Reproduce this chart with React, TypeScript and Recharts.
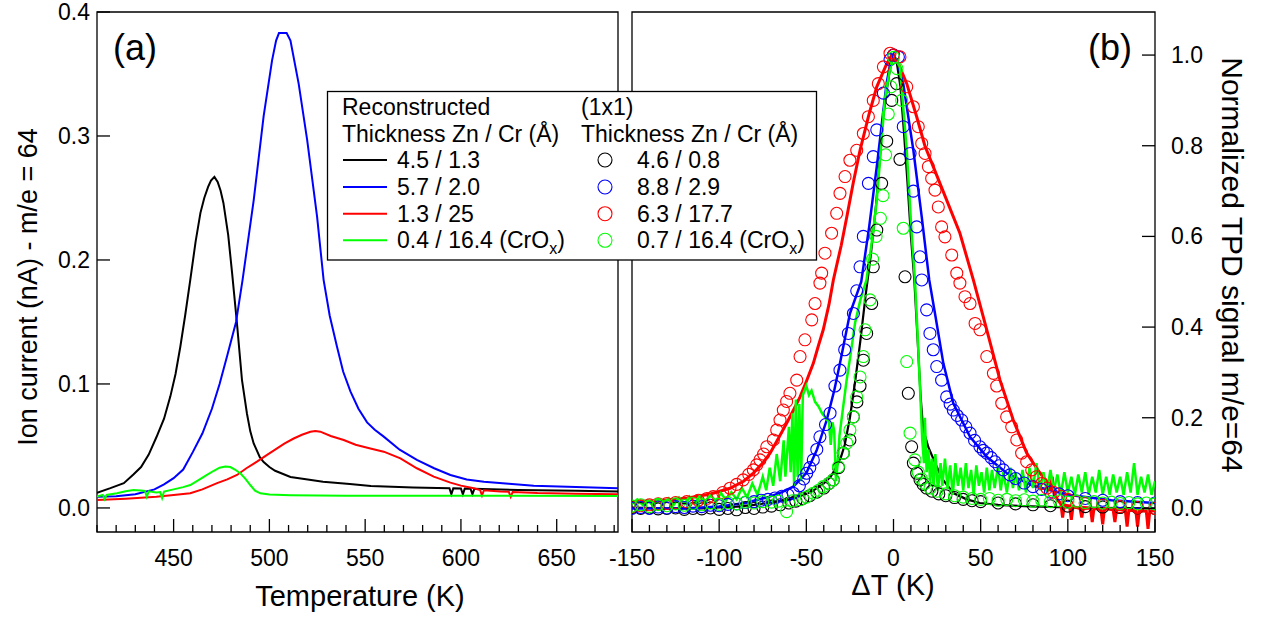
import React from "react";
import {
  ComposedChart,
  Line,
  Scatter,
  XAxis,
  YAxis,
  ReferenceArea,
} from "recharts";

// ---- panel (a): ion current vs temperature ----
const tempTicks = [410, 420, 430, 440, 450, 460, 470, 480, 490, 500, 510, 520, 530, 540, 550, 560, 570, 580, 590, 600, 610, 620, 630, 640, 650, 660, 670, 680];
const currentTicks = [0, 0.1, 0.2, 0.3, 0.4];

const blackA: [number, number][] = [
  [410, 0.0123], [417, 0.016], [424, 0.02], [429, 0.027], [433, 0.033], [437, 0.043], [441, 0.057],
  [445, 0.072], [448.3, 0.09], [451, 0.108], [453.5, 0.13], [456, 0.155], [458.7, 0.184], [461.5, 0.215],
  [464, 0.238], [466, 0.25], [468, 0.259], [469.5, 0.264], [471.3, 0.267], [473, 0.263], [474.5, 0.256],
  [476, 0.246], [478.5, 0.22], [480.5, 0.19], [483, 0.15], [485.7, 0.103], [488.3, 0.076], [490, 0.062],
  [491.8, 0.052], [495, 0.041], [497, 0.037], [500, 0.033], [503, 0.03], [511, 0.025], [520, 0.023],
  [528, 0.0212], [542, 0.0194], [553, 0.0177], [575, 0.0165], [594, 0.0159], [595, 0.011], [596, 0.0158],
  [600, 0.0157], [601, 0.011], [602, 0.0156], [605, 0.0155], [606, 0.011], [607, 0.0154], [630, 0.0145],
  [660, 0.0138], [682, 0.0132],
];
const blueA: [number, number][] = [
  [410, 0.0091], [420, 0.0095], [430, 0.011], [440, 0.015], [445, 0.019], [450, 0.024], [455, 0.031],
  [460, 0.045], [465, 0.06], [470, 0.08], [474, 0.1], [478, 0.123], [482.6, 0.15], [486, 0.184],
  [491.8, 0.248], [497, 0.316], [501.4, 0.361], [503.5, 0.377], [505, 0.383], [509, 0.383], [511, 0.377],
  [515.3, 0.342], [519.7, 0.297], [524.9, 0.235], [528.3, 0.184], [531.5, 0.155], [535.3, 0.13],
  [538.5, 0.11], [542.3, 0.094], [546.5, 0.08], [551, 0.069], [555, 0.063], [559.7, 0.0575], [568, 0.047],
  [577, 0.0387], [586, 0.032], [594.5, 0.0266], [603, 0.023], [612, 0.0212], [625, 0.0195], [638, 0.018],
  [660, 0.0168], [682, 0.0159],
];
const redA: [number, number][] = [
  [410, 0.0065], [425, 0.0075], [441, 0.0091], [450, 0.0105], [458.7, 0.0118], [465, 0.015], [472.7, 0.02],
  [478, 0.023], [483.1, 0.0266], [488, 0.032], [493.5, 0.0373], [499, 0.043], [504, 0.048], [508, 0.052],
  [512.7, 0.056], [517, 0.059], [521.4, 0.0615], [524, 0.062], [526.6, 0.0615], [532, 0.058], [538.8, 0.0548],
  [545, 0.051], [552.7, 0.048], [559.7, 0.0454], [568.4, 0.04], [577, 0.032], [585.8, 0.0253], [594.5, 0.0204],
  [600, 0.018], [606.7, 0.0159], [610, 0.0145], [611, 0.01], [612, 0.0143], [620.6, 0.0132], [625, 0.013],
  [626, 0.009], [627, 0.0128], [640, 0.012], [660, 0.0115], [682, 0.011],
];
const greenA: [number, number][] = [
  [410, 0.0091], [413, 0.0105], [414, 0.007], [415, 0.0105], [420.4, 0.0118], [425, 0.0135], [429, 0.0145],
  [433, 0.014], [435, 0.0137], [436, 0.009], [437, 0.0134], [441, 0.0125], [443, 0.0128], [444, 0.008],
  [445, 0.0132], [450, 0.015], [455, 0.0168], [458.7, 0.0185], [463, 0.0225], [467.4, 0.0266], [471, 0.03],
  [474, 0.0325], [477, 0.0335], [479.6, 0.033], [482, 0.031], [484.8, 0.028], [487.5, 0.0235], [490, 0.0185],
  [492.5, 0.014], [495.3, 0.0118], [500, 0.0108], [511, 0.0103], [540, 0.0099], [600, 0.0098], [682, 0.0097],
];

// ---- panel (b): normalized signal vs ΔT ----
const dTTicks = [-150, -140, -130, -120, -110, -100, -90, -80, -70, -60, -50, -40, -30, -20, -10, 0, 10, 20, 30, 40, 50, 60, 70, 80, 90, 100, 110, 120, 130, 140, 150];
const normTicks = [0, 0.2, 0.4, 0.6, 0.8, 1.0];

const blackB: [number, number][] = [
  [-150, 0.002], [-130, 0.0], [-110, 0.0], [-100, 0.002], [-90, 0.004], [-80, 0.008], [-70, 0.013],
  [-60, 0.02], [-50, 0.032], [-45, 0.042], [-40, 0.055], [-36, 0.07], [-33, 0.09], [-30, 0.115],
  [-28, 0.14], [-25, 0.2], [-22, 0.28], [-19, 0.37], [-16, 0.47], [-13, 0.56], [-10, 0.67], [-6, 0.86],
  [-4, 0.92], [-2, 0.97], [0, 1.0], [2, 0.98], [4, 0.93], [6, 0.83], [8, 0.72], [10, 0.6], [12, 0.5],
  [14, 0.36], [15.5, 0.25], [17, 0.175], [20, 0.135], [24.8, 0.092], [28, 0.065], [34.3, 0.034], [42, 0.02],
  [49.6, 0.012], [60, 0.008], [75, 0.005], [100, 0.002], [150, 0.0],
];
const blueB: [number, number][] = [
  [-150, 0.0], [-120, 0.0], [-100, 0.004], [-85, 0.012], [-71, 0.026], [-64, 0.036], [-57.5, 0.048],
  [-50, 0.078], [-44, 0.129], [-38.3, 0.195], [-34, 0.26], [-30.7, 0.32], [-25, 0.43], [-18.5, 0.5],
  [-14, 0.62], [-9.6, 0.754], [-4, 0.937], [-1, 1.0], [2, 0.99], [5.6, 0.937], [11.4, 0.79], [16.2, 0.643],
  [20.5, 0.504], [23.8, 0.43], [28.6, 0.32], [34.3, 0.232], [43.9, 0.158], [53.5, 0.114], [64.9, 0.078],
  [80, 0.05], [100, 0.03], [125, 0.018], [150, 0.012],
];
const redB: [number, number][] = [
  [-150, 0.015], [-135, 0.017], [-118.6, 0.0225], [-105, 0.032], [-93.8, 0.0445], [-86, 0.06], [-80.4, 0.078],
  [-75, 0.1], [-70.8, 0.122], [-66, 0.155], [-61.3, 0.188], [-57, 0.22], [-53.6, 0.246], [-50, 0.28],
  [-46, 0.32], [-43, 0.36], [-40.3, 0.394], [-37, 0.45], [-34.5, 0.504], [-30, 0.58], [-26.8, 0.643],
  [-23, 0.72], [-19.2, 0.79], [-14, 0.87], [-9.6, 0.93], [-4, 0.98], [-1, 1.0], [3, 0.98], [7.6, 0.937],
  [13.3, 0.864], [18, 0.8], [22.8, 0.754], [30.5, 0.68], [38.1, 0.607], [45.8, 0.504], [53.5, 0.394],
  [61.1, 0.283], [68.7, 0.195], [76.4, 0.122], [84, 0.078], [88, 0.06], [90, 0.04], [91, 0.07], [92, 0.035],
  [94, 0.02], [96, 0.01], [97, -0.02], [98, 0.008], [101, 0.005], [102, -0.025], [103, 0.004], [107, 0.0],
  [108, -0.02], [109, 0.002], [113, 0.0], [114, -0.03], [115, 0.0], [119, -0.002], [120, -0.035], [121, 0.0],
  [126, -0.003], [127, -0.03], [128, -0.002], [133, -0.004], [134, -0.04], [135, -0.004], [139, -0.005],
  [140, -0.04], [141, -0.005], [145, -0.006], [146, -0.045], [147, -0.006], [150, -0.005],
];
const greenB: [number, number][] = [
  [-150, 0.01], [-147, 0.02], [-144, 0.008], [-141, 0.018], [-138, 0.006], [-135, 0.02], [-132, 0.01],
  [-129, 0.022], [-126, 0.008], [-123, 0.024], [-120, 0.01], [-117, 0.026], [-114, 0.012], [-111, 0.028],
  [-108, 0.012], [-105, 0.03], [-102, 0.015], [-99, 0.034], [-96, 0.018], [-93, 0.036], [-90, 0.02],
  [-87, 0.045], [-84, 0.025], [-81, 0.055], [-78, 0.03], [-75, 0.07], [-73, 0.04], [-71, 0.09], [-69, 0.05],
  [-67, 0.12], [-65, 0.06], [-63, 0.15], [-62, 0.07], [-60, 0.18], [-59, 0.08], [-58, 0.21], [-57, 0.05],
  [-56, 0.24], [-55, 0.07], [-54, 0.23], [-53, 0.06], [-52, 0.25], [-50, 0.27], [-48.5, 0.25], [-47, 0.26],
  [-45, 0.235], [-43, 0.225], [-41, 0.21], [-39, 0.2], [-37, 0.19], [-36, 0.14], [-35, 0.19], [-34, 0.17],
  [-33, 0.06], [-32, 0.1], [-31, 0.16], [-29, 0.22], [-27, 0.28], [-25, 0.33], [-22, 0.41], [-19, 0.46],
  [-15.5, 0.504], [-12, 0.6], [-9.6, 0.68], [-5, 0.9], [-2, 0.97], [0, 1.0], [3.7, 0.974], [7.6, 0.79],
  [10.4, 0.607], [12.3, 0.504], [14, 0.37], [15.5, 0.24], [16.5, 0.15], [17.5, 0.1], [18, 0.2], [19, 0.08],
  [20, 0.13], [21, 0.06], [22, 0.11], [23, 0.05], [24, 0.12], [25.5, 0.04], [27, 0.1], [28, 0.05],
  [29.5, 0.11], [31, 0.045], [32.5, 0.095], [34, 0.03], [35.5, 0.1], [37, 0.05], [38.5, 0.09], [40, 0.04],
  [41.5, 0.1], [43, 0.045], [44.5, 0.085], [46, 0.03], [47.5, 0.095], [49, 0.05], [50.5, 0.08], [52, 0.035],
  [53.5, 0.09], [55, 0.04], [56.5, 0.085], [58, 0.045], [60, 0.095], [61.5, 0.04], [63, 0.08], [65, 0.035],
  [67, 0.09], [68.5, 0.045], [70, 0.08], [72, 0.04], [74, 0.085], [76, 0.035], [78, 0.09], [80, 0.045],
  [82, 0.1], [84, 0.04], [86, 0.08], [88, 0.035], [90, 0.085], [92, 0.04], [94, 0.075], [96, 0.03],
  [98, 0.08], [100, 0.035], [102, 0.07], [104, 0.03], [106, 0.075], [108, 0.035], [110, 0.08], [112, 0.03],
  [114, 0.07], [116, 0.035], [118, 0.085], [120, 0.03], [122, 0.07], [124, 0.03], [126, 0.075], [128, 0.035],
  [130, 0.07], [132, 0.03], [134, 0.08], [136, 0.035], [138, 0.1], [140, 0.03], [142, 0.07], [144, 0.035],
  [146, 0.075], [148, 0.03], [150, 0.06],
];

const blackCirc: [number, number][] = [
  [-150, 0.002], [-145, 0.0], [-140, 0.001], [-135, -0.001], [-130, 0.0], [-125, 0.001], [-120, -0.002],
  [-115, 0.0], [-110, -0.001], [-105, 0.001], [-100, -0.002], [-95, 0.0], [-90, -0.003], [-85, 0.002],
  [-80, 0.0], [-75, 0.003], [-70, 0.005], [-65, 0.008], [-60, 0.012], [-56, 0.016], [-52, 0.022],
  [-48, 0.028], [-44, 0.036], [-40, 0.045], [-37, 0.055], [-34.5, 0.063], [-31.5, 0.09], [-28.8, 0.122],
  [-25, 0.151], [-23, 0.202], [-21, 0.235], [-19.2, 0.27], [-17.3, 0.327], [-15.4, 0.386], [-12.5, 0.452],
  [-11.6, 0.533], [-9.6, 0.614], [-6.8, 0.717], [-3.9, 0.81], [-1, 0.9], [0, 1.0], [1.8, 0.937], [3.7, 0.77],
  [6.6, 0.511], [8.5, 0.254], [10.4, 0.136], [11.4, 0.1], [13.3, 0.0776], [15.2, 0.063], [17, 0.053],
  [19, 0.045], [22, 0.038], [26, 0.032], [30, 0.028], [35, 0.024], [40, 0.02], [45, 0.017], [50, 0.015],
  [60, 0.012], [70, 0.01], [80, 0.008], [90, 0.006], [100, 0.005], [110, 0.004], [120, 0.003], [130, 0.002],
  [140, 0.001], [150, 0.0],
];
const blueCirc: [number, number][] = [
  [-150, 0.0], [-145, 0.002], [-140, 0.0], [-135, 0.003], [-130, 0.001], [-125, 0.004], [-120, 0.002],
  [-115, 0.005], [-110, 0.004], [-105, 0.007], [-100, 0.006], [-95, 0.009], [-90, 0.01], [-85, 0.013],
  [-80, 0.015], [-76, 0.018], [-72, 0.02], [-68, 0.023], [-64, 0.027], [-60.5, 0.03], [-57.5, 0.0335],
  [-54, 0.05], [-51.5, 0.065], [-49.8, 0.0776], [-48, 0.09], [-46, 0.107], [-44, 0.13], [-42.2, 0.158],
  [-39, 0.185], [-36.4, 0.21], [-33.6, 0.27], [-30.7, 0.305], [-28, 0.35], [-25.9, 0.386], [-23, 0.43],
  [-21.1, 0.48], [-19.2, 0.533], [-17.3, 0.6], [-14.4, 0.717], [-11.6, 0.776], [-9.6, 0.835], [-5.8, 0.916],
  [-2, 0.99], [0, 1.0], [2.8, 0.996], [5.6, 0.842], [9.5, 0.783], [11.4, 0.7], [13.3, 0.621], [15.2, 0.555],
  [16.2, 0.504], [19, 0.438], [20.9, 0.386], [22.8, 0.35], [24.8, 0.313], [27.6, 0.283], [30.5, 0.246],
  [32.5, 0.23], [34.3, 0.217], [36.5, 0.205], [39.1, 0.195], [41.5, 0.18], [43.9, 0.166], [46.5, 0.15],
  [49.6, 0.136], [51.5, 0.128], [53.5, 0.122], [56, 0.112], [58.2, 0.103], [60.5, 0.094], [63, 0.085],
  [66.8, 0.074], [70, 0.066], [75, 0.056], [80, 0.048], [85, 0.042], [90, 0.036], [95, 0.032], [100, 0.028],
  [110, 0.022], [120, 0.018], [130, 0.015], [140, 0.013], [150, 0.012],
];
const redCirc: [number, number][] = [
  [-150, 0.004], [-145, 0.006], [-140, 0.008], [-135, 0.01], [-130, 0.011], [-125, 0.013], [-118.6, 0.015],
  [-112, 0.018], [-107, 0.022], [-103.4, 0.026], [-98, 0.035], [-93.8, 0.0445], [-90, 0.053], [-86.2, 0.063],
  [-83, 0.075], [-80.4, 0.085], [-78.5, 0.096], [-76.6, 0.107], [-74.5, 0.12], [-72.7, 0.136], [-68.9, 0.151],
  [-67, 0.173], [-65.1, 0.195], [-63.2, 0.217], [-61.3, 0.236], [-59.4, 0.254], [-55.5, 0.283], [-53.6, 0.335],
  [-50.8, 0.372], [-46.9, 0.416], [-45, 0.452], [-42.2, 0.497], [-41.2, 0.519], [-39.3, 0.563], [-35.5, 0.607],
  [-32.6, 0.651], [-30.7, 0.695], [-27.8, 0.732], [-25, 0.768], [-21.1, 0.79], [-17.3, 0.827], [-14.4, 0.864],
  [-11.6, 0.9], [-8.7, 0.937], [-5.8, 0.974], [-2, 1.004], [0, 1.0], [3.7, 0.996], [7.6, 0.93], [11.4, 0.886],
  [14.2, 0.842], [16.2, 0.805], [18.1, 0.783], [20, 0.754], [21.9, 0.728], [23.8, 0.702], [25.7, 0.665],
  [27.6, 0.621], [29.5, 0.599], [33.4, 0.559], [36.3, 0.519], [38.1, 0.497], [41, 0.467], [43.9, 0.452],
  [46.8, 0.408], [49.6, 0.394], [53.5, 0.335], [57.3, 0.298], [59.2, 0.27], [62.1, 0.232], [64.9, 0.202],
  [67.8, 0.18], [70.7, 0.151], [73.5, 0.122], [76.4, 0.103], [79.3, 0.085], [82, 0.07], [85, 0.055],
  [88, 0.045], [92, 0.035], [96, 0.027], [100, 0.02], [105, 0.015], [110, 0.011], [120, 0.007], [130, 0.004],
  [140, 0.002], [150, 0.0],
];
const greenCirc: [number, number][] = [
  [-150, 0.005], [-145, 0.008], [-140, 0.004], [-135, 0.009], [-130, 0.006], [-125, 0.01], [-120, 0.007],
  [-115, 0.011], [-110, 0.008], [-105, 0.012], [-100, 0.009], [-95, 0.013], [-90, 0.01], [-85, 0.014],
  [-80, 0.012], [-75, 0.015], [-70, 0.014], [-66, 0.016], [-61.3, -0.007], [-58, 0.017], [-53.6, 0.019],
  [-50, 0.025], [-46, 0.0335], [-43, 0.04], [-40.3, 0.048], [-37, 0.055], [-34.5, 0.063], [-31.6, 0.092],
  [-28.8, 0.122], [-26.8, 0.144], [-25, 0.173], [-23, 0.202], [-21.1, 0.246], [-19.2, 0.29], [-17.3, 0.335],
  [-16.3, 0.394], [-13.5, 0.46], [-12, 0.55], [-10, 0.6], [-7.5, 0.64], [-6, 0.69], [-4.5, 0.78], [-3, 0.87],
  [-1.5, 0.93], [0, 0.995], [2, 0.97], [4.7, 0.9], [5.6, 0.618], [7.6, 0.324], [9.5, 0.166], [12.3, 0.107],
  [14.2, 0.08], [16, 0.065], [18, 0.055], [21, 0.045], [25, 0.038], [30, 0.032], [35, 0.028], [40, 0.025],
  [45, 0.022], [50, 0.02], [55, 0.022], [60, 0.018], [65, 0.02], [70, 0.017], [75, 0.019], [80, 0.016],
  [85, 0.018], [90, 0.015], [95, 0.017], [100, 0.014], [105, 0.016], [110, 0.013], [115, 0.015], [120, 0.012],
  [125, 0.014], [130, 0.011], [135, 0.013], [140, 0.01], [145, 0.012], [150, 0.01],
];

const FONT = "'Liberation Sans', Arial, Helvetica, sans-serif";
const BLUE = "#0000ff";
const RED = "#ff0000";
const GREEN = "#00ff00";

const pts = (a: [number, number][]) => a.map(([x, y]) => ({ x, y }));

// ticks drawn inside the frame, labels outside
const BottomTick = (props: any) => {
  const { x, y, payload } = props;
  const major = payload.value % 50 === 0;
  return (
    <g>
      <line x1={x} x2={x} y1={y} y2={y - (major ? 13 : 7)} stroke="#000" strokeWidth={1.3} />
      {major && (
        <text x={x} y={y + 34} textAnchor="middle" fontSize={23} fontFamily={FONT} fill="#000">
          {payload.value}
        </text>
      )}
    </g>
  );
};

const LeftTick = (props: any) => {
  const { x, y, payload } = props;
  return (
    <g>
      <line x1={x} x2={x + 13} y1={y} y2={y} stroke="#000" strokeWidth={1.3} />
      <text x={x - 7} y={y + 8} textAnchor="end" fontSize={23} fontFamily={FONT} fill="#000">
        {payload.value.toFixed(1)}
      </text>
    </g>
  );
};

const RightTick = (props: any) => {
  const { x, y, payload } = props;
  return (
    <g>
      <line x1={x} x2={x - 13} y1={y} y2={y} stroke="#000" strokeWidth={1.3} />
      <text x={x + 16} y={y + 8} textAnchor="start" fontSize={23} fontFamily={FONT} fill="#000">
        {payload.value.toFixed(1)}
      </text>
    </g>
  );
};

const ring = (color: string) => (p: any) => (
  <circle cx={p.cx} cy={p.cy} r={6} fill="none" stroke={color} strokeWidth={1.1} />
);

function PanelA() {
  return (
    <ComposedChart width={640} height={618} margin={{ top: 12, right: 22, bottom: 46, left: 7 }}>
      <XAxis
        dataKey="x"
        type="number"
        domain={[410, 682]}
        allowDataOverflow
        ticks={tempTicks}
        interval={0}
        height={40}
        tickSize={0}
        tickMargin={0}
        tickLine={false}
        axisLine={false}
        tick={<BottomTick />}
      />
      <YAxis
        dataKey="y"
        type="number"
        domain={[-0.0194, 0.4]}
        allowDataOverflow
        ticks={currentTicks}
        interval={0}
        width={90}
        tickSize={0}
        tickMargin={0}
        tickLine={false}
        axisLine={false}
        tick={<LeftTick />}
      />
      <Line data={pts(blackA)} dataKey="y" type="linear" stroke="#000" strokeWidth={2} dot={false} isAnimationActive={false} />
      <Line data={pts(blueA)} dataKey="y" type="linear" stroke={BLUE} strokeWidth={2} dot={false} isAnimationActive={false} />
      <Line data={pts(redA)} dataKey="y" type="linear" stroke={RED} strokeWidth={2} dot={false} isAnimationActive={false} />
      <Line data={pts(greenA)} dataKey="y" type="linear" stroke={GREEN} strokeWidth={2} dot={false} isAnimationActive={false} />
      <ReferenceArea x1={410} x2={682} y1={-0.0194} y2={0.4} fill="none" stroke="#000" strokeWidth={1.3} />
    </ComposedChart>
  );
}

function PanelB() {
  return (
    <ComposedChart width={701} height={618} margin={{ top: 12, right: 46, bottom: 46, left: 72 }}>
      <XAxis
        dataKey="x"
        type="number"
        domain={[-150, 150]}
        allowDataOverflow
        ticks={dTTicks}
        interval={0}
        height={40}
        tickSize={0}
        tickMargin={0}
        tickLine={false}
        axisLine={false}
        tick={<BottomTick />}
      />
      <YAxis
        dataKey="y"
        type="number"
        orientation="right"
        domain={[-0.052, 1.095]}
        allowDataOverflow
        ticks={normTicks}
        interval={0}
        width={60}
        tickSize={0}
        tickMargin={0}
        tickLine={false}
        axisLine={false}
        tick={<RightTick />}
      />
      <Scatter data={pts(blackCirc)} dataKey="y" shape={ring("#000")} isAnimationActive={false} />
      <Scatter data={pts(blueCirc)} dataKey="y" shape={ring(BLUE)} isAnimationActive={false} />
      <Scatter data={pts(redCirc)} dataKey="y" shape={ring(RED)} isAnimationActive={false} />
      <Scatter data={pts(greenCirc)} dataKey="y" shape={ring(GREEN)} isAnimationActive={false} />
      <Line data={pts(blackB)} dataKey="y" type="linear" stroke="#000" strokeWidth={2.2} dot={false} isAnimationActive={false} />
      <Line data={pts(blueB)} dataKey="y" type="linear" stroke={BLUE} strokeWidth={2.5} dot={false} isAnimationActive={false} />
      <Line data={pts(redB)} dataKey="y" type="linear" stroke={RED} strokeWidth={3} dot={false} isAnimationActive={false} />
      <Line data={pts(greenB)} dataKey="y" type="linear" stroke={GREEN} strokeWidth={2.5} dot={false} isAnimationActive={false} />
      <ReferenceArea x1={-150} x2={150} y1={-0.052} y2={1.095} fill="none" stroke="#000" strokeWidth={1.3} />
    </ComposedChart>
  );
}

const legendLeft = ["4.5 / 1.3", "5.7 / 2.0", "1.3 / 25", "0.4 / 16.4"];
const legendRight = ["4.6 / 0.8", "8.8 / 2.9", "6.3 / 17.7", "0.7 / 16.4"];
const legendColors = ["#000", BLUE, RED, GREEN];

function Overlay() {
  const rows = [168, 195, 221.7, 248.3];
  return (
    <svg width={1261} height={618} style={{ position: "absolute", left: 0, top: 0, pointerEvents: "none" }} fontFamily={FONT}>
      <text x={113} y={60} fontSize={36}>(a)</text>
      <text x={1088} y={60} fontSize={36}>(b)</text>
      <text x={360} y={606} fontSize={29} textAnchor="middle">Temperature (K)</text>
      <text x={893} y={595} fontSize={29} textAnchor="middle">ΔT (K)</text>
      <text transform="translate(37 287) rotate(-90)" fontSize={27} textAnchor="middle">
        Ion current (nA) - m/e = 64
      </text>
      <text transform="translate(1222 265) rotate(90)" fontSize={30} textAnchor="middle">
        Normalized TPD signal m/e=64
      </text>

      <rect x={327.5} y={91.5} width={489} height={168.5} fill="#fff" stroke="#000" strokeWidth={1.3} />
      <g fontSize={23}>
        <text x={342} y={115}>Reconstructed</text>
        <text x={342} y={141.7}>Thickness Zn / Cr (Å)</text>
        <text x={581} y={115}>(1x1)</text>
        <text x={581} y={141.7}>Thickness Zn / Cr (Å)</text>
        {rows.map((b, i) => (
          <g key={i}>
            <line x1={343} x2={387} y1={b - 8} y2={b - 8} stroke={legendColors[i]} strokeWidth={2} />
            <text x={397} y={b}>
              {legendLeft[i]}
              {i === 3 && (
                <>
                  {" (CrO"}
                  <tspan fontSize={16} dy={6}>x</tspan>
                  <tspan dy={-6}>)</tspan>
                </>
              )}
            </text>
            <circle cx={605} cy={b - 8} r={7} fill="none" stroke={legendColors[i]} strokeWidth={1.1} />
            <text x={637} y={b}>
              {legendRight[i]}
              {i === 3 && (
                <>
                  {" (CrO"}
                  <tspan fontSize={16} dy={6}>x</tspan>
                  <tspan dy={-6}>)</tspan>
                </>
              )}
            </text>
          </g>
        ))}
      </g>
    </svg>
  );
}

export default function App() {
  return (
    <div style={{ position: "absolute", left: 0, top: 0, width: 1261, height: 618, background: "#fff" }}>
      <div style={{ position: "absolute", left: 0, top: 0 }}>
        <PanelA />
      </div>
      <div style={{ position: "absolute", left: 560, top: 0 }}>
        <PanelB />
      </div>
      <Overlay />
    </div>
  );
}
